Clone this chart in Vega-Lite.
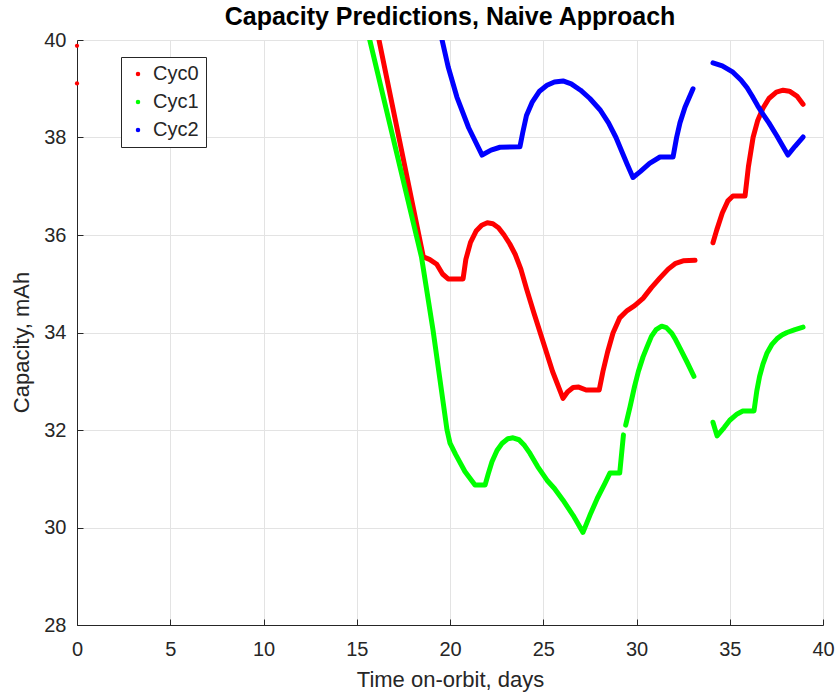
{
  "$schema": "https://vega.github.io/schema/vega-lite/v6.json",
  "width": 746,
  "height": 585,
  "autosize": "none",
  "padding": {"left": 77, "top": 40, "right": 15, "bottom": 72},
  "background": "white",
  "config": {
    "font": "Liberation Sans",
    "view": {"stroke": "#d9d9d9", "strokeWidth": 1},
    "axis": {
      "labelFont": "Liberation Sans",
      "titleFont": "Liberation Sans",
      "labelColor": "#262626",
      "titleColor": "#262626",
      "domainColor": "#262626",
      "tickColor": "#262626",
      "gridColor": "#e3e3e3",
      "labelFontSize": 20,
      "titleFontSize": 22,
      "titleFontWeight": "normal"
    }
  },
  "title": {
    "text": "Capacity Predictions, Naive Approach",
    "fontSize": 25,
    "fontWeight": "bold",
    "font": "Liberation Sans",
    "color": "#000000",
    "offset": 0
  },
  "datasets": {
    "curves": [
      {"day": 16.16, "cap": 40.06, "series": "Cyc0", "seg": "Cyc0a"},
      {"day": 18.57, "cap": 35.55, "series": "Cyc0", "seg": "Cyc0a"},
      {"day": 18.9, "cap": 35.5, "series": "Cyc0", "seg": "Cyc0a"},
      {"day": 19.29, "cap": 35.4, "series": "Cyc0", "seg": "Cyc0a"},
      {"day": 19.6, "cap": 35.2, "series": "Cyc0", "seg": "Cyc0a"},
      {"day": 19.9, "cap": 35.1, "series": "Cyc0", "seg": "Cyc0a"},
      {"day": 20.7, "cap": 35.1, "series": "Cyc0", "seg": "Cyc0a"},
      {"day": 20.85, "cap": 35.5, "series": "Cyc0", "seg": "Cyc0a"},
      {"day": 21.1, "cap": 35.85, "series": "Cyc0", "seg": "Cyc0a"},
      {"day": 21.4, "cap": 36.08, "series": "Cyc0", "seg": "Cyc0a"},
      {"day": 21.7, "cap": 36.2, "series": "Cyc0", "seg": "Cyc0a"},
      {"day": 22.0, "cap": 36.25, "series": "Cyc0", "seg": "Cyc0a"},
      {"day": 22.3, "cap": 36.23, "series": "Cyc0", "seg": "Cyc0a"},
      {"day": 22.6, "cap": 36.15, "series": "Cyc0", "seg": "Cyc0a"},
      {"day": 22.9, "cap": 36.0, "series": "Cyc0", "seg": "Cyc0a"},
      {"day": 23.2, "cap": 35.82, "series": "Cyc0", "seg": "Cyc0a"},
      {"day": 23.5, "cap": 35.6, "series": "Cyc0", "seg": "Cyc0a"},
      {"day": 23.8, "cap": 35.3, "series": "Cyc0", "seg": "Cyc0a"},
      {"day": 24.1, "cap": 34.9, "series": "Cyc0", "seg": "Cyc0a"},
      {"day": 24.5, "cap": 34.4, "series": "Cyc0", "seg": "Cyc0a"},
      {"day": 25.0, "cap": 33.8, "series": "Cyc0", "seg": "Cyc0a"},
      {"day": 25.5, "cap": 33.2, "series": "Cyc0", "seg": "Cyc0a"},
      {"day": 26.06, "cap": 32.65, "series": "Cyc0", "seg": "Cyc0a"},
      {"day": 26.3, "cap": 32.78, "series": "Cyc0", "seg": "Cyc0a"},
      {"day": 26.6, "cap": 32.87, "series": "Cyc0", "seg": "Cyc0a"},
      {"day": 26.9, "cap": 32.88, "series": "Cyc0", "seg": "Cyc0a"},
      {"day": 27.3, "cap": 32.82, "series": "Cyc0", "seg": "Cyc0a"},
      {"day": 28.0, "cap": 32.82, "series": "Cyc0", "seg": "Cyc0a"},
      {"day": 28.2, "cap": 33.2, "series": "Cyc0", "seg": "Cyc0a"},
      {"day": 28.45, "cap": 33.6, "series": "Cyc0", "seg": "Cyc0a"},
      {"day": 28.74, "cap": 33.99, "series": "Cyc0", "seg": "Cyc0a"},
      {"day": 29.1, "cap": 34.3, "series": "Cyc0", "seg": "Cyc0a"},
      {"day": 29.5, "cap": 34.45, "series": "Cyc0", "seg": "Cyc0a"},
      {"day": 29.9, "cap": 34.55, "series": "Cyc0", "seg": "Cyc0a"},
      {"day": 30.35, "cap": 34.7, "series": "Cyc0", "seg": "Cyc0a"},
      {"day": 30.8, "cap": 34.92, "series": "Cyc0", "seg": "Cyc0a"},
      {"day": 31.26, "cap": 35.12, "series": "Cyc0", "seg": "Cyc0a"},
      {"day": 31.7, "cap": 35.3, "series": "Cyc0", "seg": "Cyc0a"},
      {"day": 32.1, "cap": 35.42, "series": "Cyc0", "seg": "Cyc0a"},
      {"day": 32.5, "cap": 35.47, "series": "Cyc0", "seg": "Cyc0a"},
      {"day": 33.14, "cap": 35.48, "series": "Cyc0", "seg": "Cyc0a"},
      {"day": 34.1, "cap": 35.84, "series": "Cyc0", "seg": "Cyc0b"},
      {"day": 34.3, "cap": 36.1, "series": "Cyc0", "seg": "Cyc0b"},
      {"day": 34.6, "cap": 36.45, "series": "Cyc0", "seg": "Cyc0b"},
      {"day": 34.9, "cap": 36.7, "series": "Cyc0", "seg": "Cyc0b"},
      {"day": 35.17, "cap": 36.8, "series": "Cyc0", "seg": "Cyc0b"},
      {"day": 35.82, "cap": 36.8, "series": "Cyc0", "seg": "Cyc0b"},
      {"day": 36.0, "cap": 37.4, "series": "Cyc0", "seg": "Cyc0b"},
      {"day": 36.25, "cap": 38.0, "series": "Cyc0", "seg": "Cyc0b"},
      {"day": 36.5, "cap": 38.35, "series": "Cyc0", "seg": "Cyc0b"},
      {"day": 36.78, "cap": 38.6, "series": "Cyc0", "seg": "Cyc0b"},
      {"day": 37.1, "cap": 38.8, "series": "Cyc0", "seg": "Cyc0b"},
      {"day": 37.5, "cap": 38.93, "series": "Cyc0", "seg": "Cyc0b"},
      {"day": 37.86, "cap": 38.97, "series": "Cyc0", "seg": "Cyc0b"},
      {"day": 38.2, "cap": 38.95, "series": "Cyc0", "seg": "Cyc0b"},
      {"day": 38.6, "cap": 38.85, "series": "Cyc0", "seg": "Cyc0b"},
      {"day": 38.93, "cap": 38.68, "series": "Cyc0", "seg": "Cyc0b"},

      {"day": 15.66, "cap": 40.06, "series": "Cyc1", "seg": "Cyc1a"},
      {"day": 18.47, "cap": 35.55, "series": "Cyc1", "seg": "Cyc1a"},
      {"day": 19.09, "cap": 34.05, "series": "Cyc1", "seg": "Cyc1a"},
      {"day": 19.84, "cap": 32.0, "series": "Cyc1", "seg": "Cyc1a"},
      {"day": 20.0, "cap": 31.73, "series": "Cyc1", "seg": "Cyc1a"},
      {"day": 20.3, "cap": 31.5, "series": "Cyc1", "seg": "Cyc1a"},
      {"day": 20.8, "cap": 31.15, "series": "Cyc1", "seg": "Cyc1a"},
      {"day": 21.34, "cap": 30.87, "series": "Cyc1", "seg": "Cyc1a"},
      {"day": 21.88, "cap": 30.87, "series": "Cyc1", "seg": "Cyc1a"},
      {"day": 22.05, "cap": 31.1, "series": "Cyc1", "seg": "Cyc1a"},
      {"day": 22.25, "cap": 31.35, "series": "Cyc1", "seg": "Cyc1a"},
      {"day": 22.52, "cap": 31.58, "series": "Cyc1", "seg": "Cyc1a"},
      {"day": 22.8, "cap": 31.73, "series": "Cyc1", "seg": "Cyc1a"},
      {"day": 23.1, "cap": 31.82, "series": "Cyc1", "seg": "Cyc1a"},
      {"day": 23.38, "cap": 31.84, "series": "Cyc1", "seg": "Cyc1a"},
      {"day": 23.7, "cap": 31.8, "series": "Cyc1", "seg": "Cyc1a"},
      {"day": 24.0, "cap": 31.68, "series": "Cyc1", "seg": "Cyc1a"},
      {"day": 24.29, "cap": 31.52, "series": "Cyc1", "seg": "Cyc1a"},
      {"day": 24.7, "cap": 31.25, "series": "Cyc1", "seg": "Cyc1a"},
      {"day": 25.2, "cap": 30.97, "series": "Cyc1", "seg": "Cyc1a"},
      {"day": 25.6, "cap": 30.8, "series": "Cyc1", "seg": "Cyc1a"},
      {"day": 26.06, "cap": 30.56, "series": "Cyc1", "seg": "Cyc1a"},
      {"day": 26.6, "cap": 30.25, "series": "Cyc1", "seg": "Cyc1a"},
      {"day": 27.13, "cap": 29.9, "series": "Cyc1", "seg": "Cyc1a"},
      {"day": 27.5, "cap": 30.25, "series": "Cyc1", "seg": "Cyc1a"},
      {"day": 27.9, "cap": 30.6, "series": "Cyc1", "seg": "Cyc1a"},
      {"day": 28.3, "cap": 30.9, "series": "Cyc1", "seg": "Cyc1a"},
      {"day": 28.58, "cap": 31.12, "series": "Cyc1", "seg": "Cyc1a"},
      {"day": 29.1, "cap": 31.12, "series": "Cyc1", "seg": "Cyc1a"},
      {"day": 29.3, "cap": 31.9, "series": "Cyc1", "seg": "Cyc1a"},
      {"day": 29.42, "cap": 32.1, "series": "Cyc1", "seg": "Cyc1b"},
      {"day": 29.65, "cap": 32.47, "series": "Cyc1", "seg": "Cyc1b"},
      {"day": 29.9, "cap": 32.9, "series": "Cyc1", "seg": "Cyc1b"},
      {"day": 30.1, "cap": 33.2, "series": "Cyc1", "seg": "Cyc1b"},
      {"day": 30.35, "cap": 33.5, "series": "Cyc1", "seg": "Cyc1b"},
      {"day": 30.56, "cap": 33.7, "series": "Cyc1", "seg": "Cyc1b"},
      {"day": 30.8, "cap": 33.92, "series": "Cyc1", "seg": "Cyc1b"},
      {"day": 31.05, "cap": 34.06, "series": "Cyc1", "seg": "Cyc1b"},
      {"day": 31.35, "cap": 34.13, "series": "Cyc1", "seg": "Cyc1b"},
      {"day": 31.6, "cap": 34.1, "series": "Cyc1", "seg": "Cyc1b"},
      {"day": 31.9, "cap": 33.98, "series": "Cyc1", "seg": "Cyc1b"},
      {"day": 32.1, "cap": 33.85, "series": "Cyc1", "seg": "Cyc1b"},
      {"day": 32.33, "cap": 33.68, "series": "Cyc1", "seg": "Cyc1b"},
      {"day": 32.7, "cap": 33.4, "series": "Cyc1", "seg": "Cyc1b"},
      {"day": 33.08, "cap": 33.1, "series": "Cyc1", "seg": "Cyc1b"},
      {"day": 34.1, "cap": 32.16, "series": "Cyc1", "seg": "Cyc1c"},
      {"day": 34.32, "cap": 31.88, "series": "Cyc1", "seg": "Cyc1c"},
      {"day": 34.7, "cap": 32.05, "series": "Cyc1", "seg": "Cyc1c"},
      {"day": 35.0, "cap": 32.2, "series": "Cyc1", "seg": "Cyc1c"},
      {"day": 35.4, "cap": 32.33, "series": "Cyc1", "seg": "Cyc1c"},
      {"day": 35.7, "cap": 32.39, "series": "Cyc1", "seg": "Cyc1c"},
      {"day": 36.3, "cap": 32.39, "series": "Cyc1", "seg": "Cyc1c"},
      {"day": 36.45, "cap": 32.8, "series": "Cyc1", "seg": "Cyc1c"},
      {"day": 36.6, "cap": 33.1, "series": "Cyc1", "seg": "Cyc1c"},
      {"day": 36.78, "cap": 33.35, "series": "Cyc1", "seg": "Cyc1c"},
      {"day": 37.0, "cap": 33.58, "series": "Cyc1", "seg": "Cyc1c"},
      {"day": 37.25, "cap": 33.75, "series": "Cyc1", "seg": "Cyc1c"},
      {"day": 37.53, "cap": 33.87, "series": "Cyc1", "seg": "Cyc1c"},
      {"day": 37.8, "cap": 33.95, "series": "Cyc1", "seg": "Cyc1c"},
      {"day": 38.07, "cap": 34.0, "series": "Cyc1", "seg": "Cyc1c"},
      {"day": 38.5, "cap": 34.06, "series": "Cyc1", "seg": "Cyc1c"},
      {"day": 38.93, "cap": 34.11, "series": "Cyc1", "seg": "Cyc1c"},

      {"day": 19.54, "cap": 40.06, "series": "Cyc2", "seg": "Cyc2a"},
      {"day": 19.9, "cap": 39.45, "series": "Cyc2", "seg": "Cyc2a"},
      {"day": 20.37, "cap": 38.83, "series": "Cyc2", "seg": "Cyc2a"},
      {"day": 21.0, "cap": 38.2, "series": "Cyc2", "seg": "Cyc2a"},
      {"day": 21.72, "cap": 37.64, "series": "Cyc2", "seg": "Cyc2a"},
      {"day": 22.2, "cap": 37.74, "series": "Cyc2", "seg": "Cyc2a"},
      {"day": 22.68, "cap": 37.8, "series": "Cyc2", "seg": "Cyc2a"},
      {"day": 23.75, "cap": 37.81, "series": "Cyc2", "seg": "Cyc2a"},
      {"day": 23.9, "cap": 38.1, "series": "Cyc2", "seg": "Cyc2a"},
      {"day": 24.1, "cap": 38.45, "series": "Cyc2", "seg": "Cyc2a"},
      {"day": 24.4, "cap": 38.72, "series": "Cyc2", "seg": "Cyc2a"},
      {"day": 24.8, "cap": 38.95, "series": "Cyc2", "seg": "Cyc2a"},
      {"day": 25.2, "cap": 39.07, "series": "Cyc2", "seg": "Cyc2a"},
      {"day": 25.6, "cap": 39.14, "series": "Cyc2", "seg": "Cyc2a"},
      {"day": 26.06, "cap": 39.16, "series": "Cyc2", "seg": "Cyc2a"},
      {"day": 26.5, "cap": 39.1, "series": "Cyc2", "seg": "Cyc2a"},
      {"day": 27.0, "cap": 38.97, "series": "Cyc2", "seg": "Cyc2a"},
      {"day": 27.5, "cap": 38.8, "series": "Cyc2", "seg": "Cyc2a"},
      {"day": 28.04, "cap": 38.57, "series": "Cyc2", "seg": "Cyc2a"},
      {"day": 28.5, "cap": 38.3, "series": "Cyc2", "seg": "Cyc2a"},
      {"day": 28.9, "cap": 38.0, "series": "Cyc2", "seg": "Cyc2a"},
      {"day": 29.28, "cap": 37.65, "series": "Cyc2", "seg": "Cyc2a"},
      {"day": 29.5, "cap": 37.45, "series": "Cyc2", "seg": "Cyc2a"},
      {"day": 29.81, "cap": 37.18, "series": "Cyc2", "seg": "Cyc2a"},
      {"day": 30.2, "cap": 37.3, "series": "Cyc2", "seg": "Cyc2a"},
      {"day": 30.7, "cap": 37.47, "series": "Cyc2", "seg": "Cyc2a"},
      {"day": 31.26, "cap": 37.6, "series": "Cyc2", "seg": "Cyc2a"},
      {"day": 31.96, "cap": 37.6, "series": "Cyc2", "seg": "Cyc2a"},
      {"day": 32.15, "cap": 38.0, "series": "Cyc2", "seg": "Cyc2a"},
      {"day": 32.33, "cap": 38.3, "series": "Cyc2", "seg": "Cyc2a"},
      {"day": 32.6, "cap": 38.62, "series": "Cyc2", "seg": "Cyc2a"},
      {"day": 33.03, "cap": 39.0, "series": "Cyc2", "seg": "Cyc2a"},
      {"day": 34.1, "cap": 39.53, "series": "Cyc2", "seg": "Cyc2b"},
      {"day": 34.6, "cap": 39.47, "series": "Cyc2", "seg": "Cyc2b"},
      {"day": 35.17, "cap": 39.34, "series": "Cyc2", "seg": "Cyc2b"},
      {"day": 35.6, "cap": 39.18, "series": "Cyc2", "seg": "Cyc2b"},
      {"day": 35.93, "cap": 39.02, "series": "Cyc2", "seg": "Cyc2b"},
      {"day": 36.2, "cap": 38.85, "series": "Cyc2", "seg": "Cyc2b"},
      {"day": 36.5, "cap": 38.65, "series": "Cyc2", "seg": "Cyc2b"},
      {"day": 36.78, "cap": 38.48, "series": "Cyc2", "seg": "Cyc2b"},
      {"day": 37.1, "cap": 38.3, "series": "Cyc2", "seg": "Cyc2b"},
      {"day": 37.53, "cap": 38.03, "series": "Cyc2", "seg": "Cyc2b"},
      {"day": 37.8, "cap": 37.85, "series": "Cyc2", "seg": "Cyc2b"},
      {"day": 38.12, "cap": 37.64, "series": "Cyc2", "seg": "Cyc2b"},
      {"day": 38.5, "cap": 37.82, "series": "Cyc2", "seg": "Cyc2b"},
      {"day": 38.93, "cap": 38.01, "series": "Cyc2", "seg": "Cyc2b"}
    ],
    "dots": [
      {"day": 0, "cap": 39.88, "series": "Cyc0"},
      {"day": 0, "cap": 39.11, "series": "Cyc0"}
    ]
  },
  "layer": [
    {
      "data": {"name": "curves"},
      "mark": {"type": "line", "strokeWidth": 5, "strokeCap": "round", "strokeJoin": "round", "interpolate": "linear", "clip": true},
      "encoding": {
        "x": {
          "field": "day", "type": "quantitative",
          "scale": {"domain": [0, 40], "nice": false},
          "axis": {"title": "Time on-orbit, days", "values": [0, 5, 10, 15, 20, 25, 30, 35, 40], "tickSize": -6, "labelPadding": 20, "titlePadding": 10, "labelFlush": false}
        },
        "y": {
          "field": "cap", "type": "quantitative",
          "scale": {"domain": [28, 40], "nice": false, "zero": false},
          "axis": {"title": "Capacity, mAh", "values": [28, 30, 32, 34, 36, 38, 40], "tickSize": -6, "labelPadding": 17, "titlePadding": 10, "titleY": 302, "labelFlush": false}
        },
        "color": {
          "field": "series", "type": "nominal",
          "scale": {"domain": ["Cyc0", "Cyc1", "Cyc2"], "range": ["#ff0000", "#00ff00", "#0000ff"]},
          "legend": {
            "title": null,
            "orient": "none",
            "legendX": 44,
            "legendY": 17,
            "padding": 7,
            "symbolOffset": 0,
            "strokeColor": "#262626",
            "fillColor": "white",
            "symbolType": "circle",
            "symbolSize": 20,
            "labelFontSize": 20,
            "labelFont": "Liberation Sans",
            "labelColor": "#262626",
            "rowPadding": 8,
            "labelOffset": 5,
            "encode": {"symbols": {"update": {"fill": {"scale": "color", "field": "value"}, "strokeWidth": {"value": 0}}}}
          }
        },
        "detail": {"field": "seg", "type": "nominal"}
      }
    },
    {
      "data": {"name": "dots"},
      "mark": {"type": "point", "filled": true, "size": 18, "opacity": 1, "clip": false},
      "encoding": {
        "x": {"field": "day", "type": "quantitative"},
        "y": {"field": "cap", "type": "quantitative"},
        "color": {"field": "series", "type": "nominal"}
      }
    }
  ]
}
